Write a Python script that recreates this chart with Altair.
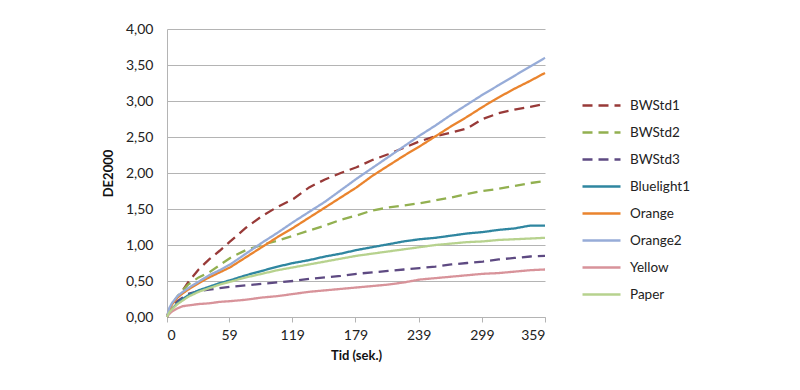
import altair as alt
import pandas as pd

T = [0, 2, 5, 10, 15, 20, 30, 40, 50, 60, 75, 90, 105, 120, 135, 150, 165,
     180, 195, 210, 225, 240, 255, 270, 285, 300, 315, 330, 345, 359]

BWStd1 = [0, 0.08, 0.17, 0.28, 0.37, 0.48, 0.66, 0.80, 0.92, 1.05, 1.24, 1.40,
          1.53, 1.64, 1.80, 1.91, 2.00, 2.08, 2.18, 2.26, 2.35, 2.44, 2.51,
          2.56, 2.62, 2.75, 2.83, 2.88, 2.92, 2.96]
BWStd2 = [0, 0.08, 0.18, 0.29, 0.37, 0.45, 0.55, 0.62, 0.72, 0.82, 0.93, 1.00,
          1.06, 1.13, 1.20, 1.27, 1.35, 1.41, 1.48, 1.52, 1.55, 1.58, 1.62,
          1.66, 1.71, 1.75, 1.78, 1.82, 1.86, 1.89]
BWStd3 = [0, 0.07, 0.14, 0.22, 0.27, 0.32, 0.36, 0.38, 0.40, 0.42, 0.44, 0.46,
          0.48, 0.50, 0.53, 0.55, 0.57, 0.60, 0.62, 0.64, 0.66, 0.68, 0.70,
          0.73, 0.75, 0.77, 0.80, 0.82, 0.84, 0.85]
Bluelight1 = [0, 0.07, 0.12, 0.19, 0.25, 0.30, 0.37, 0.42, 0.47, 0.51, 0.58,
              0.64, 0.70, 0.75, 0.79, 0.84, 0.88, 0.93, 0.97, 1.01, 1.05, 1.08,
              1.10, 1.13, 1.16, 1.18, 1.21, 1.23, 1.27, 1.27]
Orange = [0, 0.10, 0.18, 0.27, 0.33, 0.38, 0.47, 0.55, 0.62, 0.69, 0.83, 0.97,
          1.11, 1.24, 1.38, 1.52, 1.66, 1.80, 1.96, 2.10, 2.24, 2.37, 2.51,
          2.65, 2.78, 2.92, 3.05, 3.17, 3.28, 3.39]
Orange2 = [0, 0.12, 0.20, 0.29, 0.35, 0.40, 0.49, 0.58, 0.65, 0.73, 0.88, 1.03,
           1.17, 1.32, 1.46, 1.60, 1.76, 1.92, 2.07, 2.22, 2.37, 2.52, 2.66,
           2.81, 2.95, 3.09, 3.22, 3.35, 3.48, 3.60]
Yellow = [0, 0.04, 0.08, 0.12, 0.15, 0.16, 0.18, 0.19, 0.21, 0.22, 0.24, 0.27,
          0.29, 0.32, 0.35, 0.37, 0.39, 0.41, 0.43, 0.45, 0.48, 0.52, 0.54,
          0.56, 0.58, 0.60, 0.61, 0.63, 0.65, 0.66]
Paper = [0, 0.06, 0.11, 0.18, 0.23, 0.28, 0.35, 0.40, 0.45, 0.49, 0.55, 0.60,
         0.65, 0.69, 0.73, 0.77, 0.81, 0.85, 0.88, 0.91, 0.94, 0.97, 1.00,
         1.02, 1.04, 1.05, 1.07, 1.08, 1.09, 1.10]

SERIES = ["BWStd1", "BWStd2", "BWStd3", "Bluelight1", "Orange", "Orange2",
          "Yellow", "Paper"]
COLORS = ["#983A38", "#92B050", "#5E4A82", "#2F86A0", "#EA842E", "#97ACD8",
          "#D8939A", "#B7D28E"]
DASHES = [[10, 6], [10, 6], [10, 6], [1, 0], [1, 0], [1, 0], [1, 0], [1, 0]]
X_TICKS = [0, 59, 119, 179, 239, 299, 359]

values = {"BWStd1": BWStd1, "BWStd2": BWStd2, "BWStd3": BWStd3,
          "Bluelight1": Bluelight1, "Orange": Orange, "Orange2": Orange2,
          "Yellow": Yellow, "Paper": Paper}

rows = []
for s in SERIES:
    for t, v in zip(T, values[s]):
        rows.append({"t": t, "v": v, "series": s})
df = pd.DataFrame(rows)

FONT = "Lato"
GRID = "#B4B4B4"

legend_opts = dict(title=None, orient="none", legendX=414, legendY=56,
                   symbolType="stroke", symbolSize=1444, symbolStrokeWidth=2.5,
                   rowPadding=0, labelOffset=8)

chart = alt.Chart(df).mark_line(strokeWidth=2.3).encode(
    x=alt.X("t:Q",
            scale=alt.Scale(domain=[0, 359], nice=False, zero=True),
            axis=alt.Axis(values=X_TICKS, title="Tid (sek.)", grid=False,
                          domainColor=GRID, tickColor=GRID, tickSize=5,
                          labelPadding=6, titlePadding=7)),
    y=alt.Y("v:Q",
            scale=alt.Scale(domain=[0, 4], nice=False),
            axis=alt.Axis(values=[0, 0.5, 1, 1.5, 2, 2.5, 3, 3.5, 4],
                          labelExpr="replace(format(datum.value, '.2f'), '.', ',')",
                          title="DE2000", grid=True, gridColor=GRID,
                          domain=True, domainColor=GRID, ticks=False,
                          labelPadding=14, titlePadding=10)),
    color=alt.Color("series:N",
                    scale=alt.Scale(domain=SERIES, range=COLORS),
                    sort=SERIES,
                    legend=alt.Legend(**legend_opts)),
    strokeDash=alt.StrokeDash("series:N",
                              scale=alt.Scale(domain=SERIES, range=DASHES),
                              sort=SERIES,
                              legend=alt.Legend(**legend_opts)),
    order=alt.Order("t:Q"),
).properties(
    width=378, height=288,
    padding={"left": 94, "top": 14, "right": 5, "bottom": 5},
    background="white",
).configure_view(
    stroke=None
).configure_axis(
    labelFont=FONT, titleFont=FONT, labelFontSize=14, titleFontSize=13,
    labelColor="#222222", titleColor="#111111", titleFontWeight="bold"
).configure_legend(
    labelFont=FONT, labelFontSize=13.5, labelColor="#222222"
)

chart.save("out.html", embed_options={"renderer": "svg", "actions": False})
